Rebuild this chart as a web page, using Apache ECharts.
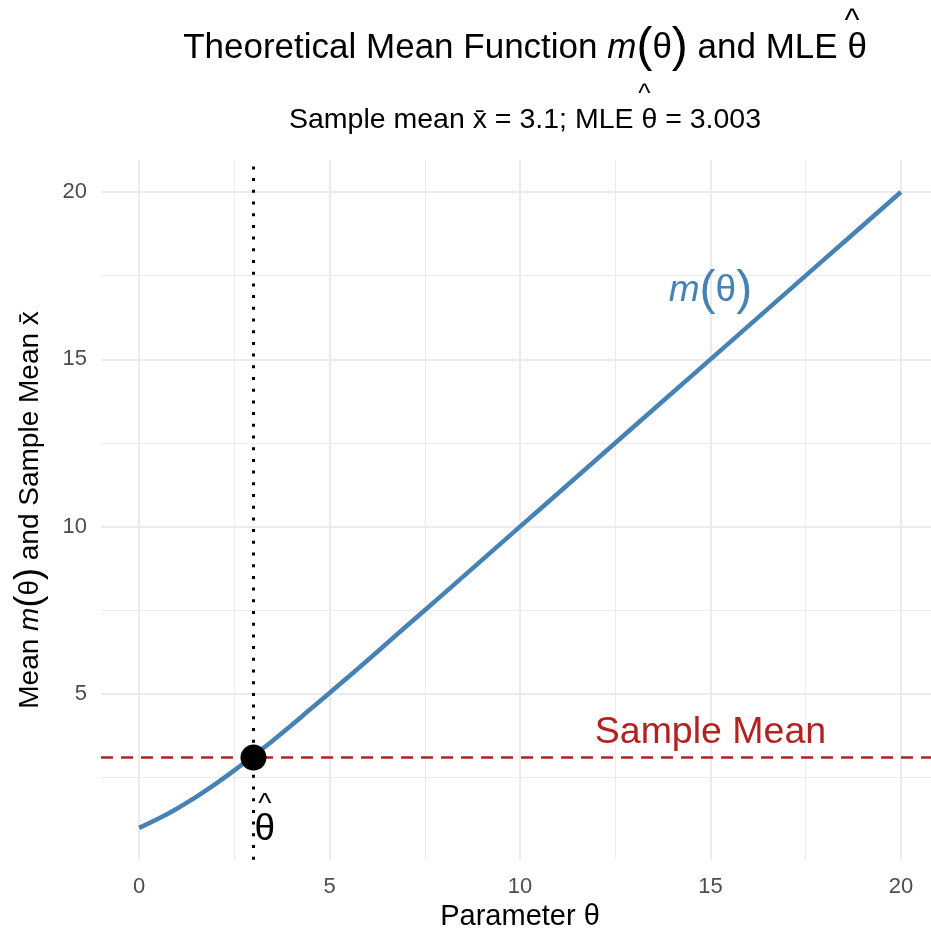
<!DOCTYPE html>
<html><head><meta charset="utf-8">
<script src="https://cdn.jsdelivr.net/npm/echarts@6/dist/echarts.min.js"></script>
<style>html,body{margin:0;padding:0;background:#fff}#c{width:931px;height:930px}</style>
</head><body><div id="c"></div>
<script>
const thetaValues = [0,0.5,1,1.5,2,2.5,3,3.5,4,4.5,5,6,7,8,9,10,11,12,13,14,15,16,17,18,19,20];
const meanValues  = [1.00,1.27,1.58,1.93,2.31,2.72,3.16,3.60,4.07,4.55,5.03,6.01,7.01,8.00,9.00,10,11,12,13,14,15,16,17,18,19,20];
const sampleMean = 3.1;
const mleTheta = 3.003;
const xMajorTicks = [0,5,10,15,20];
const xMinorTicks = [2.5,7.5,12.5,17.5];
const yMajorTicks = [5,10,15,20];
const yMinorTicks = [2.5,7.5,12.5,17.5];
const curveLabelPos = [15,17.05];
const meanLabelPos = [15,3.85];
const thetaLabelPos = [3.3,1.18];

const FONT = '"Liberation Sans", Arial, Helvetica, sans-serif';
const GRID = '#EBEBEB';
const CX = 520;
const TITLE_SIZE = 35, PAREN_SIZE = 48, SUB_SIZE = 28.5;

const chart = echarts.init(document.getElementById('c'), null, {renderer:'canvas'});

// text measurement for placing hats
const mctx = document.createElement('canvas').getContext('2d');
function tw(str, size, style){ mctx.font = (style||'') + ' ' + size + 'px ' + FONT; return mctx.measureText(str).width; }

const tParts = [['Theoretical Mean Function ',TITLE_SIZE,''],['m',TITLE_SIZE,'italic'],['(',PAREN_SIZE,''],['θ',TITLE_SIZE,''],[')',PAREN_SIZE,''],[' and MLE θ',TITLE_SIZE,'']];
const tW = tParts.reduce((s,p)=>s+tw(p[0],p[1],p[2]),0);
const titleHatX = CX + tW/2 - tw('θ',TITLE_SIZE)/2;
const subPre = 'Sample mean x̄ = 3.1; MLE ';
const subText = subPre + 'θ = 3.003';
const sW = tw(subText, SUB_SIZE);
const subHatX = CX - sW/2 + tw(subPre, SUB_SIZE) + tw('θ',SUB_SIZE)/2;

function xAx(major){
  return {
    type:'value', min:-1, max:21, position:'bottom',
    axisLine:{show:false},
    axisTick:{show:false, customValues: major ? xMajorTicks : xMinorTicks},
    axisLabel:{show:major, customValues: xMajorTicks, color:'#4D4D4D', fontSize:22, fontFamily:FONT, margin:16},
    splitLine:{show:true, lineStyle:{color:GRID, width: major ? 2 : 1}},
    name: major ? 'Parameter θ' : '', nameLocation:'middle', nameGap:39,
    nameTextStyle:{color:'#000', fontSize:29, fontFamily:FONT}
  };
}
function yAx(major){
  return {
    type:'value', min:0.05, max:20.95, position:'left',
    axisLine:{show:false},
    axisTick:{show:false, customValues: major ? yMajorTicks : yMinorTicks},
    axisLabel:{show:major, customValues: yMajorTicks, color:'#4D4D4D', fontSize:22, fontFamily:FONT, margin:14},
    splitLine:{show:true, lineStyle:{color:GRID, width: major ? 2 : 1}},
    name: major ? '{a|Mean }{i|m}{p|(}{a|θ}{p|)}{a| and Sample Mean x̄}' : '',
    nameLocation:'middle', nameGap:53,
    nameTextStyle:{color:'#000', fontSize:28, fontFamily:FONT,
      rich:{a:{fontSize:28,fontFamily:FONT,color:'#000'},
            i:{fontSize:28,fontFamily:FONT,fontStyle:'italic',color:'#000'},
            p:{fontSize:36,fontFamily:FONT,color:'#000'}}}
  };
}

const labelRich = (color, size, psize) => ({
  a:{fontSize:size,fontFamily:FONT,color:color,fontWeight:'normal'},
  i:{fontSize:size,fontFamily:FONT,fontStyle:'italic',color:color,fontWeight:'normal'},
  p:{fontSize:psize,fontFamily:FONT,color:color,fontWeight:'normal'}
});
const textPoint = {type:'scatter', xAxisIndex:0, yAxisIndex:0, z:6, symbolSize:0, silent:true,
  itemStyle:{color:'rgba(0,0,0,0)', opacity:1}};

const option = {
  animation:false,
  backgroundColor:'#fff',
  title:[
    {text:'{a|Theoretical Mean Function }{i|m}{p|(}{a|θ}{p|)}{a| and MLE θ}',
     left:CX, top:19, textAlign:'center',
     textStyle:{fontWeight:'normal', rich:labelRich('#000',TITLE_SIZE,PAREN_SIZE)}},
    {text:subText,
     left:CX, top:101, textAlign:'center',
     textStyle:{fontSize:SUB_SIZE, fontWeight:'normal', fontFamily:FONT, color:'#000'}}
  ],
  graphic:[
    {type:'text', x:titleHatX, y:21, silent:true,
     style:{text:'^', fontSize:32, fontFamily:FONT, fill:'#000', align:'center', verticalAlign:'middle'}},
    {type:'text', x:subHatX, y:95, silent:true,
     style:{text:'^', fontSize:26, fontFamily:FONT, fill:'#000', align:'center', verticalAlign:'middle'}}
  ],
  grid:{left:101, top:160.2, width:838, height:699.5, containLabel:false, outerBoundsMode:'none'},
  xAxis:[xAx(true), xAx(false)],
  yAxis:[yAx(true), yAx(false)],
  series:[
    {type:'line', xAxisIndex:0, yAxisIndex:0, showSymbol:false, smooth:true, z:3,
     data: thetaValues.map((t,i)=>[t, meanValues[i]]),
     lineStyle:{color:'#4682B4', width:4.5}},
    {type:'line', xAxisIndex:0, yAxisIndex:0, data:[], z:4,
     markLine:{silent:true, symbol:['none','none'], label:{show:false},
       data:[{yAxis:sampleMean, lineStyle:{color:'#B22222', width:2.6, type:[12,8], opacity:1}},
             {xAxis:mleTheta, lineStyle:{color:'#000', width:3, type:[3,8.7], opacity:1}}]}},
    {type:'scatter', xAxisIndex:0, yAxisIndex:0, z:5, symbolSize:26,
     itemStyle:{color:'#000', opacity:1}, data:[[mleTheta, sampleMean]]},
    Object.assign({}, textPoint, {
     label:{show:true, position:'inside', opacity:1, formatter:'{i|m}{p|(}{a|θ}{p|)}', rich:labelRich('#4682B4',37,48)},
     data:[curveLabelPos]}),
    Object.assign({}, textPoint, {
     label:{show:true, position:'inside', opacity:1, formatter:'Sample Mean', color:'#B22222', fontSize:37.5, fontFamily:FONT},
     data:[meanLabelPos]}),
    Object.assign({}, textPoint, {
     label:{show:true, position:'inside', opacity:1, formatter:'{h|^}\n{t|θ}',
       rich:{h:{fontSize:28,fontFamily:FONT,color:'#000',lineHeight:15,align:'center'},
             t:{fontSize:37,fontFamily:FONT,color:'#000',lineHeight:36,align:'center'}}},
     data:[thetaLabelPos]})
  ]
};
chart.setOption(option);
</script></body></html>
